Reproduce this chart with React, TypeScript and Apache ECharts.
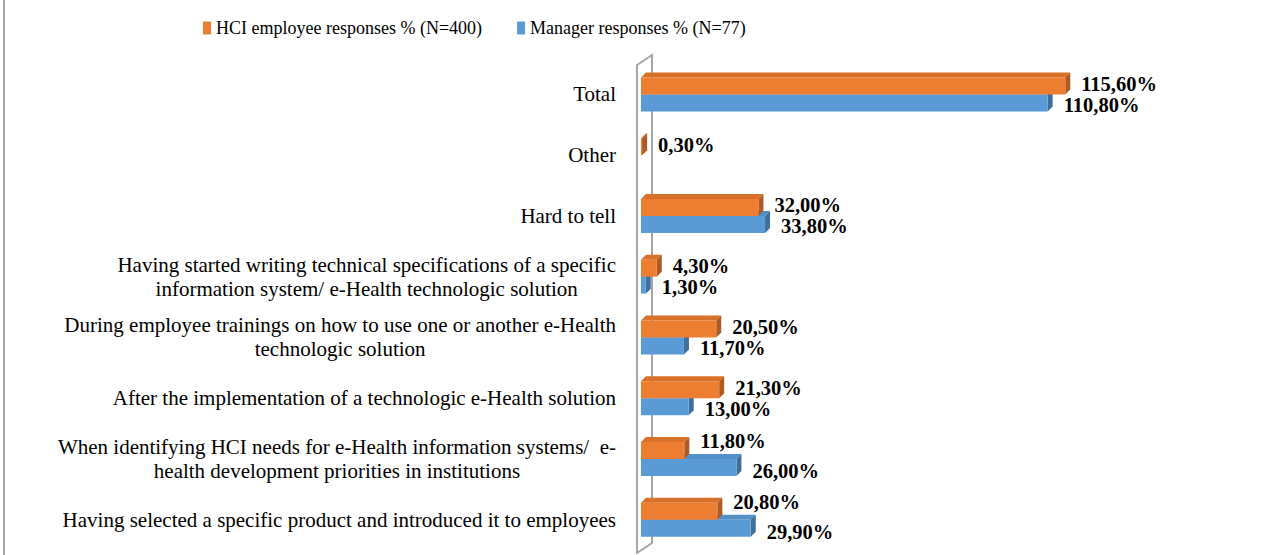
import React, { useEffect, useRef } from "react";
import * as echarts from "echarts";

const categories: string[] = [
  "Total",
  "Other",
  "Hard to tell",
  "Having started writing technical specifications of a specific\ninformation system/ e-Health technologic solution",
  "During employee trainings on how to use one or another e-Health\ntechnologic solution",
  "After the implementation of a technologic e-Health solution",
  "When identifying HCI needs for e-Health information systems/  e-\nhealth development priorities in institutions",
  "Having selected a specific product and introduced it to employees",
];

const hciValues: (number | null)[] = [115.6, 0.3, 32.0, 4.3, 20.5, 21.3, 11.8, 20.8];
const managerValues: (number | null)[] = [110.8, null, 33.8, 1.3, 11.7, 13.0, 26.0, 29.9];

const HCI_NAME = "HCI employee responses % (N=400)";
const MGR_NAME = "Manager responses % (N=77)";

const FONT = '"Liberation Serif", "Times New Roman", serif';

const GRID_LEFT = 641;
const GRID_TOP = 64;
const GRID_BOTTOM = 5;
const X_MAX = 140;
const PX_PER_UNIT = 3.67;
const BAR_H = 17;
const DEPTH = 5;
const LABEL_GAP = 11;

const fmt = (v: number) => v.toFixed(2).replace(".", ",") + "%";

const palette = {
  hci: { front: "#ED7D31", top: "#D8702A", side: "#AE5A22" },
  mgr: { front: "#5B9BD5", top: "#5390C7", side: "#3F6F9C" },
};

function makeRender(kind: "hci" | "mgr") {
  const col = palette[kind];
  return (_params: any, api: any) => {
    const v = api.value(0);
    if (v == null || isNaN(v)) return null;
    const cat = api.value(1);
    const p0 = api.coord([0, cat]);
    const p1 = api.coord([v, cat]);
    const x0 = p0[0];
    const c = p0[1];
    const x1 = p1[0];
    const h = BAR_H;
    const d = DEPTH;
    const top = kind === "hci" ? c - h : c;
    const bot = top + h;
    const labelX = x1 + d + LABEL_GAP;

    // Label collision: does the HCI label sit over the (longer) manager bar?
    const hv = hciValues[cat];
    const mv = managerValues[cat];
    let crowded = false;
    if (hv != null && mv != null) {
      const hx = api.coord([hv, cat])[0] + d + LABEL_GAP;
      const mx = api.coord([mv, cat])[0] + d;
      crowded = mx > hx;
    }
    let labelY = (top + bot) / 2;
    if (kind === "hci") labelY += crowded ? -9 : -2;
    else labelY += crowded ? 4 : 2;

    return {
      type: "group",
      children: [
        {
          type: "polygon",
          shape: { points: [[x0, top], [x0 + d, top - d], [x1 + d, top - d], [x1, top]] },
          style: { fill: col.top },
        },
        {
          type: "polygon",
          shape: { points: [[x1, top], [x1 + d, top - d], [x1 + d, bot - d], [x1, bot]] },
          style: { fill: col.side },
        },
        {
          type: "rect",
          shape: { x: x0, y: top, width: Math.max(x1 - x0, 0.5), height: h },
          style: { fill: col.front },
        },
        {
          type: "text",
          x: labelX,
          y: labelY,
          style: {
            text: fmt(v),
            fill: "#000",
            fontSize: 20.5,
            fontWeight: "bold",
            fontFamily: FONT,
            align: "left",
            verticalAlign: "middle",
          },
        },
      ],
    };
  };
}

export default function App() {
  const ref = useRef<HTMLDivElement>(null);

  useEffect(() => {
    if (!ref.current) return;
    const chart = echarts.init(ref.current, undefined, { renderer: "svg" });
    const W = 1262;
    const H = 555;
    const gridWidth = X_MAX * PX_PER_UNIT;
    const gridRight = W - GRID_LEFT - gridWidth;

    const hciData = hciValues
      .map((v, i) => (v == null ? null : [v, i]))
      .filter((d) => d != null);
    const mgrData = managerValues
      .map((v, i) => (v == null ? null : [v, i]))
      .filter((d) => d != null);

    const wallL = GRID_LEFT - 4;
    const wallR = GRID_LEFT + 11;
    const wallTop = GRID_TOP + 1;
    const wallBot = H - 2;

    chart.setOption({
      animation: false,
      backgroundColor: "#fff",
      legend: {
        top: 14,
        left: 198,
        itemWidth: 8,
        itemHeight: 13,
        itemGap: 35,
        icon: "rect",
        data: [HCI_NAME, MGR_NAME],
        textStyle: { fontSize: 18, fontFamily: FONT, color: "#000" },
      },
      grid: {
        left: GRID_LEFT,
        top: GRID_TOP,
        right: gridRight,
        bottom: GRID_BOTTOM,
        containLabel: false,
      },
      xAxis: {
        type: "value",
        min: 0,
        max: X_MAX,
        show: false,
      },
      yAxis: {
        type: "category",
        inverse: true,
        data: categories,
        axisLine: { show: false },
        axisTick: { show: false },
        splitLine: { show: false },
        axisLabel: {
          margin: 25,
          fontFamily: FONT,
          fontSize: 21,
          color: "#000",
          formatter: (v: string) =>
            v
              .split("\n")
              .map((l) => `{c|${l}}`)
              .join("\n"),
          rich: {
            c: {
              fontFamily: FONT,
              fontSize: 21,
              color: "#000",
              align: "center",
              lineHeight: 24,
            },
          },
        },
      },
      graphic: [
        {
          type: "rect",
          z: -10,
          shape: { x: 3, y: 0, width: 2, height: H },
          style: { fill: "#A6A6A6" },
        },
        {
          type: "polygon",
          z: -10,
          shape: {
            points: [
              [wallL, wallTop],
              [wallR, wallTop - 10],
              [wallR, wallBot - 10],
              [wallL, wallBot],
            ],
          },
          style: { fill: "none", stroke: "#A6A6A6", lineWidth: 2 },
        },
      ],
      series: [
        {
          name: MGR_NAME,
          type: "custom",
          renderItem: makeRender("mgr"),
          encode: { x: 0, y: 1 },
          itemStyle: { color: palette.mgr.front },
          data: mgrData,
        },
        {
          name: HCI_NAME,
          type: "custom",
          renderItem: makeRender("hci"),
          encode: { x: 0, y: 1 },
          itemStyle: { color: palette.hci.front },
          data: hciData,
        },
      ],
    });
    return () => chart.dispose();
  }, []);

  return (
    <div
      ref={ref}
      style={{ position: "fixed", left: 0, top: 0, width: 1262, height: 555 }}
    />
  );
}
